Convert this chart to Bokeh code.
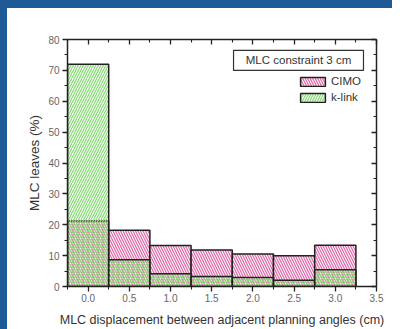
from bokeh.plotting import figure
from bokeh.models import (FixedTicker, LinearAxis, Legend, LegendItem,
                          BoxAnnotation, Label, ColumnDataSource, Range1d,
                          PrintfTickFormatter, CustomLabelingPolicy, Spacer)
from bokeh.layouts import column, row
from bokeh.embed import file_html
from bokeh.resources import INLINE

# ---- data ----
bin_centers = [0.0, 0.5, 1.0, 1.5, 2.0, 2.5, 3.0]
cimo = [21.2, 18.2, 13.3, 11.8, 10.5, 10.0, 13.4]
klink = [72.0, 8.7, 4.1, 3.2, 2.9, 2.0, 5.4]
bin_width = 0.5
x_major = [0.0, 0.5, 1.0, 1.5, 2.0, 2.5, 3.0, 3.5]
x_minor = [-0.25, 0.25, 0.75, 1.25, 1.75, 2.25, 2.75, 3.25]
y_major = [0, 10, 20, 30, 40, 50, 60, 70, 80]
y_minor = [5, 15, 25, 35, 45, 55, 65, 75]
x_title = "MLC displacement between adjacent planning angles (cm)"
y_title = "MLC leaves (%)"
note_text = "MLC constraint 3 cm"
note_box = dict(left=1.765, right=3.342, bottom=70.0, top=76.5)

FONT = "Liberation Sans"
AX = "#222222"
PINK = "#e070ae"
GREEN = "#8adc78"
BLUE = "#1d5a96"

src = ColumnDataSource(dict(
    left=[c - bin_width / 2 for c in bin_centers],
    right=[c + bin_width / 2 for c in bin_centers],
    cimo=cimo, klink=klink, zero=[0] * len(bin_centers)))

p = figure(width=385, height=321, output_backend="svg", toolbar_location=None,
           x_range=Range1d(-0.25, 3.5), y_range=Range1d(0, 80),
           min_border_left=60, min_border_top=31, min_border_right=16,
           min_border_bottom=42, background_fill_color="white",
           border_fill_color="white", outline_line_color=None)
p.xgrid.visible = False
p.ygrid.visible = False

r_cimo = p.quad(left="left", right="right", bottom="zero", top="cimo", source=src,
                fill_color="white", line_color=AX, line_width=1.5,
                hatch_pattern="\\", hatch_color=PINK, hatch_scale=5, hatch_weight=1.3)
r_klink = p.quad(left="left", right="right", bottom="zero", top="klink", source=src,
                 fill_color=None, line_color=AX, line_width=1.5,
                 hatch_pattern="/", hatch_color=GREEN, hatch_scale=5, hatch_weight=1.3)

no_labels = CustomLabelingPolicy(code="""
const all = [...indices]
for (const i of all) indices.unset(i)
return indices
""")

def style_axis(ax, labels=True, inward=False):
    ax.axis_line_color = AX
    ax.axis_line_width = 1.5
    ax.major_tick_line_color = AX
    ax.minor_tick_line_color = AX
    ax.major_tick_line_width = 1.3
    ax.minor_tick_line_width = 1.1
    if inward:
        ax.major_tick_in, ax.major_tick_out = 5, 0
        ax.minor_tick_in, ax.minor_tick_out = 3, 0
    else:
        ax.major_tick_in, ax.major_tick_out = 0, 5
        ax.minor_tick_in, ax.minor_tick_out = 0, 3
    ax.major_label_text_font = FONT
    ax.major_label_text_color = "#666666"
    ax.major_label_text_font_size = "10px"
    ax.major_label_standoff = 2
    if not labels:
        ax.major_label_policy = no_labels
        ax.major_label_standoff = 0
    ax.axis_label_text_font = FONT
    ax.axis_label_text_font_style = "normal"
    ax.axis_label_text_color = "#333333"

p.xaxis.ticker = FixedTicker(ticks=x_major, minor_ticks=x_minor)
p.yaxis.ticker = FixedTicker(ticks=y_major, minor_ticks=y_minor)
p.xaxis.formatter = PrintfTickFormatter(format="%.1f")
p.xaxis.axis_label = x_title
p.yaxis.axis_label = y_title
for ax in p.xaxis + p.yaxis:
    style_axis(ax)
p.yaxis.major_label_standoff = 3
p.xaxis.axis_label_text_font_size = "12.5px"
p.yaxis.axis_label_text_font_size = "13.5px"
p.xaxis.axis_label_standoff = 8
p.yaxis.axis_label_standoff = 3

top_ax = LinearAxis(ticker=FixedTicker(ticks=x_major, minor_ticks=x_minor))
right_ax = LinearAxis(ticker=FixedTicker(ticks=y_major, minor_ticks=y_minor))
style_axis(top_ax, labels=False, inward=True)
style_axis(right_ax, labels=False, inward=True)
p.add_layout(top_ax, "above")
p.add_layout(right_ax, "right")

box = BoxAnnotation(**note_box, fill_color="white", fill_alpha=1.0,
                    line_color="#333333", line_width=1.2, line_alpha=1.0)
p.add_layout(box)
p.add_layout(Label(x=(note_box["left"] + note_box["right"]) / 2,
                   y=(note_box["bottom"] + note_box["top"]) / 2,
                   text=note_text, text_align="center", text_baseline="middle",
                   text_font=FONT, text_font_size="11.5px", text_color="#333333"))

legend = Legend(items=[LegendItem(label="CIMO", renderers=[r_cimo]),
                       LegendItem(label="k-link", renderers=[r_klink])],
                location=(230, 183), padding=0, margin=0, spacing=4,
                glyph_width=31, glyph_height=11, label_height=11,
                label_standoff=3, label_text_font=FONT,
                label_text_font_size="11.5px", label_text_color="#333333",
                border_line_color=None, background_fill_alpha=0)
p.add_layout(legend)

top_band = Spacer(width=392, height=8, styles={"background-color": BLUE})
left_band = Spacer(width=7, height=321, styles={"background-color": BLUE})
page = column(top_band, row(left_band, p, spacing=0), spacing=0)

open("out.html", "w").write(file_html(page, INLINE))
